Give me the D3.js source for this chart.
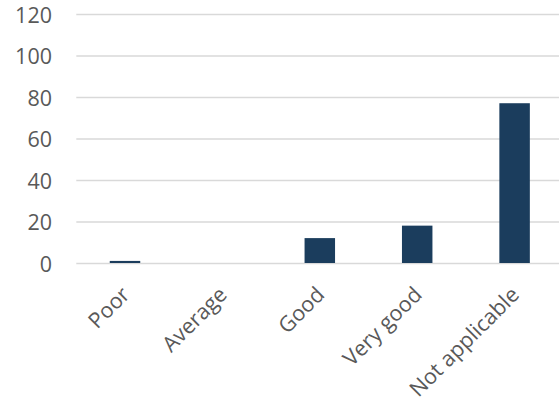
<!DOCTYPE html>
<html>
<head>
<meta charset="utf-8">
<script src="https://cdn.jsdelivr.net/npm/d3@7"></script>
<style>
  html, body { margin: 0; padding: 0; background: #fff; }
  svg { display: block; }
</style>
</head>
<body>
<svg id="chart" width="559" height="409"></svg>
<script>
const categories = ["Poor", "Average", "Good", "Very good", "Not applicable"];
const values = [1, 0, 12, 18, 77];
const yTicks = [0, 20, 40, 60, 80, 100, 120];

const svg = d3.select("#chart");
const W = 559, H = 409;
const plotLeft = 76.3, plotRight = 563.3, plotTop = 14, plotBottom = 263;

const y = d3.scaleLinear().domain([0, 120]).range([plotBottom, plotTop]);
const pi = 0.687;
const x = d3.scaleBand().domain(categories).range([plotLeft, plotRight])
  .paddingInner(pi).paddingOuter(pi / 2);

const font = "'Open Sans', sans-serif";
const textColor = "#595959";
const fs = 21.5;

// gridlines
const grid = d3.axisLeft(y).tickValues(yTicks).tickSize(-(W - plotLeft)).tickFormat("");
svg.append("g").attr("transform", `translate(${plotLeft},0)`).call(grid)
  .call(g => g.select(".domain").remove())
  .call(g => g.selectAll("line").attr("stroke", "#d9d9d9").attr("stroke-width", 1.3));

// y axis labels
const yAxis = d3.axisLeft(y).tickValues(yTicks).tickSize(0).tickPadding(0);
svg.append("g").attr("transform", `translate(52,0)`).call(yAxis)
  .call(g => g.select(".domain").remove())
  .call(g => g.selectAll("text").attr("fill", textColor).attr("font-family", font)
    .attr("font-size", fs).attr("dy", "0.38em"));

// bars
svg.append("g").selectAll("rect").data(values).join("rect")
  .attr("x", (d, i) => x(categories[i]))
  .attr("width", x.bandwidth())
  .attr("y", d => y(d))
  .attr("height", d => y(0) - y(d))
  .attr("fill", "#1b3d5d");

// x axis labels
const xAxis = d3.axisBottom(x).tickSize(0).tickPadding(0);
svg.append("g").attr("transform", `translate(0,${plotBottom})`).call(xAxis)
  .call(g => g.select(".domain").remove())
  .call(g => g.selectAll("text")
    .attr("fill", textColor).attr("font-family", font).attr("font-size", fs)
    .attr("text-anchor", "end").attr("dy", null)
    .attr("transform", "translate(6,33) rotate(-45)"));
</script>
</body>
</html>
